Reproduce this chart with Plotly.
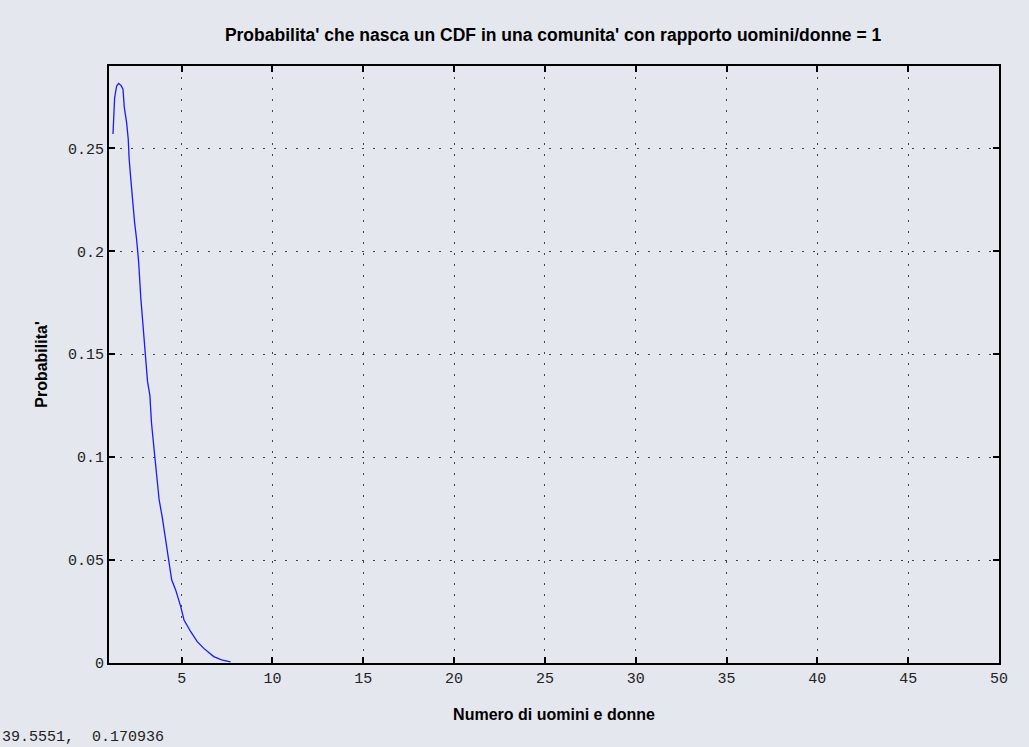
import plotly.graph_objects as go

# Probability curve sampled along the number of men and women
numero = [1.22, 1.31, 1.42, 1.53, 1.66, 1.77, 1.84, 1.97, 2.06, 2.11, 2.21, 2.30,
          2.41, 2.52, 2.63, 2.75, 2.85, 2.94, 3.03, 3.12, 3.25, 3.34, 3.48, 3.61,
          3.76, 3.94, 4.03, 4.21, 4.31, 4.45, 4.67, 4.95, 5.13, 5.50, 5.86, 6.22,
          6.77, 7.20, 7.69]
probabilita = [0.2570, 0.2746, 0.2803, 0.2815, 0.2806, 0.2787, 0.2700, 0.2625,
               0.2544, 0.2447, 0.2341, 0.2236, 0.2139, 0.2057, 0.1950, 0.1774,
               0.1668, 0.1555, 0.1449, 0.1368, 0.1300, 0.1166, 0.1040, 0.0906,
               0.0793, 0.0704, 0.0655, 0.0550, 0.0493, 0.0404, 0.0355, 0.0274,
               0.0209, 0.0152, 0.0104, 0.0071, 0.0031, 0.0015, 0.0005]

x_ticks = [5, 10, 15, 20, 25, 30, 35, 40, 45, 50]
y_ticks = [0, 0.05, 0.1, 0.15, 0.2, 0.25]
y_tick_labels = ["0", "0.05", "0.1", "0.15", "0.2", "0.25"]

titolo = "Probabilita' che nasca un CDF in una comunita' con rapporto uomini/donne = 1"
coordinate = "39.5551,  0.170936"

BG = "#e4e7ee"
TICK_FONT = dict(family="Liberation Mono, DejaVu Sans Mono, monospace", size=15, color="#222")
LABEL_FONT = dict(family="Liberation Sans, sans-serif", size=16, color="black")

fig = go.Figure()
fig.add_trace(go.Scatter(
    x=numero, y=probabilita, mode="lines",
    line=dict(color="#1a1aff", width=1.3),
    hoverinfo="skip", showlegend=False,
))

axis_common = dict(
    showline=True, linecolor="black", linewidth=2, mirror="allticks",
    ticks="inside", ticklen=6, tickwidth=2, tickcolor="black",
    showgrid=True, gridcolor="#444", gridwidth=1.3, griddash="1.5px,9.5px",
    zeroline=False, tickfont=TICK_FONT,
)

fig.update_xaxes(
    range=[1, 50], tickvals=x_ticks, ticktext=[str(v) for v in x_ticks],
    title=dict(text="<b>Numero di uomini e donne</b>", font=LABEL_FONT, standoff=22),
    **axis_common,
)
fig.update_yaxes(
    range=[0, 0.29], tickvals=y_ticks, ticktext=y_tick_labels,
    title=dict(text="<b>Probabilita'</b>", font=LABEL_FONT, standoff=16),
    **axis_common,
)

fig.update_layout(
    width=1029, height=747,
    margin=dict(l=109, r=30, t=66, b=84),
    paper_bgcolor=BG, plot_bgcolor=BG,
    title=dict(text="<b>" + titolo + "</b>", x=0.5375, xanchor="center",
               y=1 - 35 / 747, yanchor="middle", font=dict(**{**LABEL_FONT, "size": 17.5})),
    annotations=[dict(
        text=coordinate, xref="paper", yref="paper",
        x=-109 / 890, y=-74 / 597, xanchor="left", yanchor="middle",
        showarrow=False, font=TICK_FONT,
    )],
)

fig.write_html("out.html")
